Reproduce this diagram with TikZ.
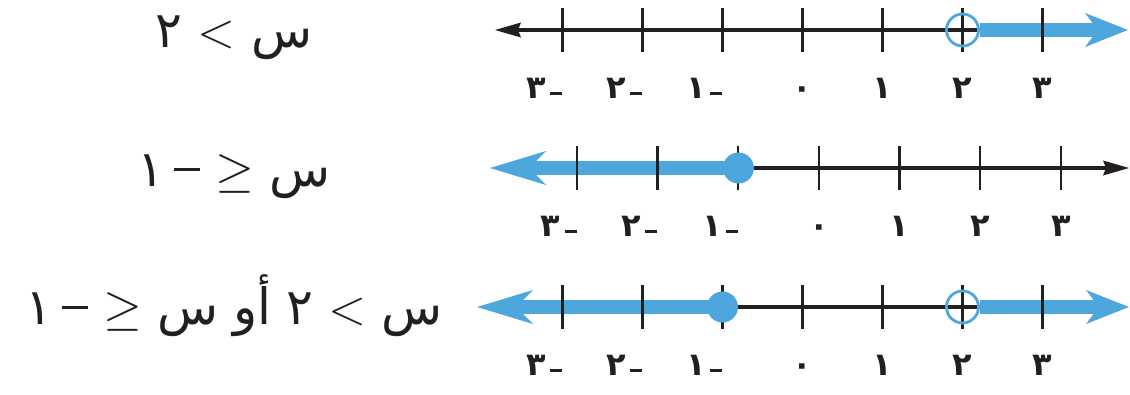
\RequirePackage{fix-cm}
\documentclass[tikz,border=0pt]{standalone}
\usepackage{fontspec}
\usepackage{tikz}
\usetikzlibrary{arrows.meta,positioning,calc,backgrounds}
\newfontfamily\arabicfont[Script=Arabic]{DejaVu Sans}
\definecolor{nlbleu}{RGB}{77,167,221}
\definecolor{nlnoir}{RGB}{35,31,32}
\newcommand{\labminus}{\kern4pt\rule[3pt]{12pt}{3.5pt}}
\newcommand{\ineqminus}{\kern10pt\rule[15pt]{26pt}{2.6pt}}
\tikzset{
  axisline/.style={line width=3.2pt, draw=nlnoir},
  blackhead/.style={-{Stealth[length=26pt, width=15pt, inset=3pt, line width=0pt]}},
  rayarrow/.style={line width=14pt, draw=nlbleu,
    -{Stealth[length=#1, width=34pt, inset=0.3*#1, line width=0pt]}},
  rayarrow/.default=56pt,
  tickmark/.style={line width=2.2pt, draw=nlnoir},
  ticklabel/.style={font=\arabicfont\bfseries\fontsize{32pt}{32pt}\selectfont,
    text=nlnoir, inner sep=0pt},
  fulldot/.style={circle, fill=nlbleu, minimum size=31pt, inner sep=0pt},
  opendot/.style={circle, draw=nlbleu, line width=2.8pt, minimum size=32pt, inner sep=0pt},
  ineqtext/.style={font=\fontsize{50pt}{50pt}\selectfont, text=nlnoir,
    inner sep=0pt, anchor=base}
}

\begin{document}
\begin{tikzpicture}[x=1pt, y=-1pt]
  \useasboundingbox (0,0) rectangle (1130,394);

  % inequalities
  \node[ineqtext] (ineq1) at (234,47)
    {{\arabicfont ٢}\ $<$\ {\arabicfont س}};
  \node[ineqtext] (ineq2) at (234,186)
    {{\arabicfont ١}\ineqminus\ $\geq$\ {\arabicfont س}};
  \node[ineqtext] (ineq3) at (234,324)
    {{\arabicfont ١}\ineqminus\ $\geq$\ {\arabicfont س}\ {\arabicfont أو}\ {\arabicfont ٢}\ $<$\ {\arabicfont س}};

  % end points and dots
  \coordinate (l1w) at (495,30);
  \coordinate (l1e) at (1128,30);
  \coordinate (l2w) at (490,168);
  \coordinate (l2e) at (1129,168);
  \coordinate (l3w) at (477,307);
  \coordinate (l3e) at (1129,307);
  \node[opendot] (l1open) at (962.5,30) {};
  \node[fulldot] (l2dot) at (738.4,168) {};
  \node[fulldot] (l3dot) at (722.5,307) {};
  \node[opendot] (l3open) at (962.5,307) {};

  \begin{pgfonlayer}{background}
    \draw[axisline, blackhead] (l1open.east) -- (l1w);
    \draw[rayarrow=43pt] (l1open.east) -- (l1e);
    \draw[axisline, blackhead] (l2dot.center) -- (l2e);
    \draw[rayarrow] (l2dot.center) -- (l2w);
    \draw[axisline] (l3dot.center) -- (l3open.east);
    \draw[rayarrow] (l3dot.center) -- (l3w);
    \draw[rayarrow=43pt] (l3open.east) -- (l3e);

    \foreach \ln/\y/\xo/\dx in {1/30/562.5/80, 2/168/576.7/80.7, 3/307/562.5/80} {
      \foreach \i in {0,...,6}
        \draw[tickmark] ({\xo+\i*\dx},\y-22) -- ({\xo+\i*\dx},\y+22);
      \foreach \i/\d in {0/٣,1/٢,2/١}
        \node[ticklabel, anchor=base east] (lab\ln m\i) at ({\xo+\i*\dx},\y+68) {\d\labminus};
      \node[ticklabel, anchor=base] (lab\ln z) at ({\xo+3*\dx},\y+68) {٠};
      \foreach \i/\d in {4/١,5/٢,6/٣}
        \node[ticklabel, anchor=base] (lab\ln p\i) at ({\xo+\i*\dx},\y+68) {\d};
    }
  \end{pgfonlayer}
\end{tikzpicture}
\end{document}
